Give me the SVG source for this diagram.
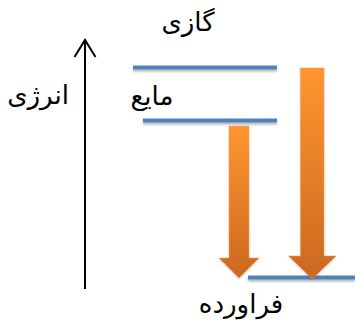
<svg xmlns="http://www.w3.org/2000/svg" width="355" height="320" viewBox="0 0 355 320">
<style>
.lbl{font-family:"DejaVu Sans","Liberation Sans",sans-serif;font-size:26px;fill:#000;text-anchor:middle}
.lvl{fill:#4F81BD;filter:url(#sh)}
.big{fill:url(#og);stroke:#F0A050;stroke-width:0.5;filter:url(#sh2)}
</style>
<defs>
<linearGradient id="og" x1="0" y1="0" x2="0" y2="1">
<stop offset="0" stop-color="#FF9530"/>
<stop offset="1" stop-color="#CC6820"/>
</linearGradient>
<filter id="sh" x="-10%" y="-100%" width="120%" height="300%">
<feDropShadow dx="0" dy="2" stdDeviation="1" flood-color="#000" flood-opacity="0.3"/>
</filter>
<filter id="sh2" x="-30%" y="-10%" width="160%" height="120%">
<feDropShadow dx="0" dy="1" stdDeviation="1" flood-color="#000" flood-opacity="0.2"/>
</filter>
</defs>
<g id="energy-axis">
<line x1="85" y1="289" x2="85" y2="41" stroke="#000" stroke-width="2"/>
<polyline points="74.5,57 85,40 95.5,57" fill="none" stroke="#000" stroke-width="2"/>
<text class="lbl" x="38" y="104">انرژی</text>
</g>
<g id="gas">
<rect class="lvl" x="133" y="65.5" width="144" height="4"/>
<text class="lbl" x="188" y="31">گازی</text>
</g>
<g id="liquid">
<rect class="lvl" x="143" y="118.5" width="134" height="4"/>
<text class="lbl" x="152" y="105">مایع</text>
</g>
<g id="product">
<rect class="lvl" x="248" y="275.5" width="107" height="4"/>
<text class="lbl" x="241" y="313">فراورده</text>
</g>
<g id="connectors">
<path class="big" d="M229,126 H249 V258 H259 L239,278 L219,258 H229 Z"/>
<path class="big" d="M300.5,68 H324 V256 H336 L312.25,279 L288.5,256 H300.5 Z"/>
</g>
</svg>
